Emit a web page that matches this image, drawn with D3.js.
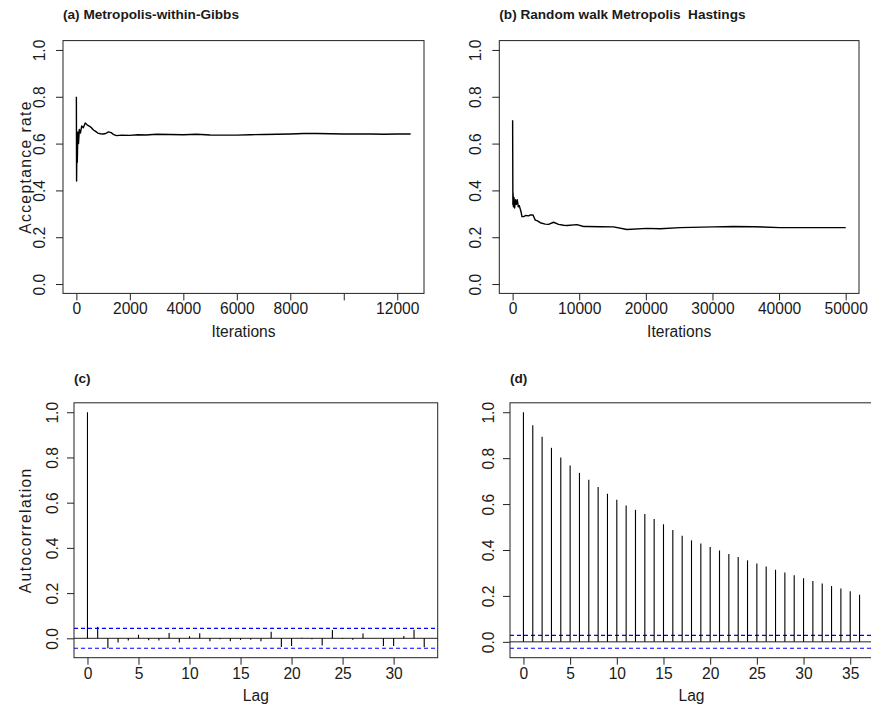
<!DOCTYPE html>
<html>
<head>
<meta charset="utf-8">
<script src="https://cdn.jsdelivr.net/npm/d3@7/dist/d3.min.js"></script>
<style>
  html, body { margin: 0; padding: 0; background: #fff; }
  svg { display: block; }
  text { font-family: "Liberation Sans", Arial, Helvetica, sans-serif; fill: #1a1a1a; }
</style>
</head>
<body>
<svg id="chart" width="871" height="707"></svg>
<script>
// ---- (a) running acceptance rate, Metropolis-within-Gibbs ----
const traceAIter = [0, 8, 20, 35, 55, 80, 110, 150, 200, 260, 330, 400, 480, 560, 640, 720, 800, 900, 1000,
  1100, 1200, 1300, 1400, 1500, 1700, 2000, 2300, 2600, 3000, 3500, 4000, 4500, 5000, 5500, 6000, 6500,
  7000, 7500, 8000, 8500, 9000, 9500, 10000, 10500, 11000, 11500, 12000, 12500];
const traceARate = [0.80, 0.44, 0.60, 0.52, 0.65, 0.60, 0.66, 0.645, 0.675, 0.668, 0.688, 0.680, 0.675, 0.668,
  0.658, 0.652, 0.645, 0.642, 0.641, 0.643, 0.650, 0.647, 0.638, 0.634, 0.636, 0.635, 0.638, 0.637, 0.640,
  0.639, 0.638, 0.640, 0.637, 0.636, 0.636, 0.638, 0.639, 0.640, 0.641, 0.643, 0.643, 0.642, 0.641, 0.641,
  0.641, 0.640, 0.641, 0.641];
const ticksA = [0, 2000, 4000, 6000, 8000, 10000, 12000];
const tickLabelsA = ["0", "2000", "4000", "6000", "8000", "", "12000"];

// ---- (b) running acceptance rate, random walk Metropolis Hastings ----
const traceBIter = [0, 40, 60, 120, 200, 300, 420, 550, 700, 850, 1000, 1260, 1400, 1650, 2000, 2400, 2650,
  3060, 3400, 3660, 4150, 4900, 5400, 6150, 6900, 7650, 8160, 9660, 10650, 11160, 13150, 15150, 17160,
  20160, 22150, 25150, 30150, 33150, 36150, 40150, 45100, 50000];
const traceBRate = [0.70, 0.34, 0.39, 0.33, 0.37, 0.325, 0.36, 0.34, 0.36, 0.33, 0.335, 0.309, 0.288, 0.288,
  0.293, 0.291, 0.295, 0.295, 0.273, 0.271, 0.262, 0.256, 0.255, 0.264, 0.255, 0.251, 0.250, 0.254, 0.246,
  0.246, 0.245, 0.244, 0.233, 0.238, 0.236, 0.241, 0.244, 0.246, 0.245, 0.241, 0.241, 0.241];
const ticksB = [0, 10000, 20000, 30000, 40000, 50000];
const tickLabelsB = ["0", "10000", "20000", "30000", "40000", "50000"];

const rateTicks = [0, 0.2, 0.4, 0.6, 0.8, 1.0];
const rateTickLabels = ["0.0", "0.2", "0.4", "0.6", "0.8", "1.0"];

// ---- (c) autocorrelation, Metropolis-within-Gibbs (lags 0..33) ----
const acfC = [1.0, 0.051, -0.044, -0.019, -0.010, 0.016, -0.009, -0.010, 0.024, -0.019, 0.009, 0.022,
  -0.013, -0.004, -0.013, -0.007, -0.006, -0.013, 0.029, -0.038, -0.034, 0.003, -0.004, -0.032, 0.037,
  -0.003, -0.006, 0.021, -0.001, -0.034, -0.034, 0.010, 0.038, -0.040];
const ciC = 0.044;
const lagTicksC = [0, 5, 10, 15, 20, 25, 30];

// ---- (d) autocorrelation, random walk Metropolis Hastings (lags 0..36) ----
const acfD = [1.0, 0.943, 0.893, 0.845, 0.803, 0.768, 0.736, 0.706, 0.674, 0.645, 0.619, 0.594, 0.575,
  0.557, 0.535, 0.512, 0.487, 0.462, 0.442, 0.428, 0.413, 0.398, 0.383, 0.369, 0.355, 0.341, 0.328,
  0.314, 0.302, 0.290, 0.277, 0.265, 0.254, 0.243, 0.232, 0.220, 0.205];
const ciD = 0.028;
const lagTicksD = [0, 5, 10, 15, 20, 25, 30, 35];

const acfTicks = [0, 0.2, 0.4, 0.6, 0.8, 1.0];
const acfTickLabels = ["0.0", "0.2", "0.4", "0.6", "0.8", "1.0"];

const svg = d3.select("#chart");
const TICK_FONT = "15.6px";
const TITLE_FONT = "13.6px";

// Extend a range by 4% on each side, as base graphics does.
function padded(lo, hi) {
  const p = 0.04 * (hi - lo);
  return [lo - p, hi + p];
}

function frame(g, box, x, y, xt, xtl, yt, ytl, opts) {
  // plot box
  g.append("rect")
    .attr("x", box.left).attr("y", box.top)
    .attr("width", box.right - box.left).attr("height", box.bottom - box.top)
    .attr("fill", "none").attr("stroke", "#222").attr("stroke-width", 1);

  // bottom axis
  const xAxis = d3.axisBottom(x).tickValues(xt).tickSize(7).tickSizeOuter(0)
    .tickFormat((d, i) => xtl[i]);
  const gx = g.append("g").attr("transform", `translate(0,${box.bottom})`).call(xAxis);
  gx.select(".domain").remove();
  gx.selectAll(".tick line").attr("stroke", "#222");
  gx.selectAll(".tick text").attr("y", 0).attr("dy", opts.xLabelDy)
    .style("font-size", TICK_FONT).attr("fill", "#1a1a1a");

  // left axis, labels rotated parallel to the axis
  const yAxis = d3.axisLeft(y).tickValues(yt).tickSize(7).tickSizeOuter(0)
    .tickFormat((d, i) => ytl[i]);
  const gy = g.append("g").attr("transform", `translate(${box.left},0)`).call(yAxis);
  gy.select(".domain").remove();
  gy.selectAll(".tick line").attr("stroke", "#222");
  gy.selectAll(".tick text")
    .attr("x", null).attr("dy", null)
    .attr("transform", `translate(${-opts.yLabelGap},0) rotate(-90)`)
    .attr("text-anchor", "middle")
    .style("font-size", TICK_FONT).attr("fill", "#1a1a1a");

  // axis titles
  g.append("text")
    .attr("x", (box.left + box.right) / 2).attr("y", box.bottom + opts.xTitleDy)
    .attr("text-anchor", "middle").style("font-size", TICK_FONT).text(opts.xTitle);
  if (opts.yTitle) {
    g.append("text")
      .attr("transform", `translate(${opts.yTitleX},${(box.top + box.bottom) / 2}) rotate(-90)`)
      .attr("text-anchor", "middle").style("font-size", TICK_FONT)
      .style("letter-spacing", "1.4px").text(opts.yTitle);
  }
  // panel title
  g.append("text")
    .attr("x", box.left).attr("y", opts.titleY)
    .attr("xml:space", "preserve")
    .style("font-size", TITLE_FONT).style("font-weight", "bold").style("white-space", "pre")
    .text(opts.title);
}

function tracePanel(box, iters, rates, xt, xtl, opts) {
  const g = svg.append("g");
  const x = d3.scaleLinear().domain(padded(0, d3.max(iters))).range([box.left, box.right]);
  const y = d3.scaleLinear().domain(padded(0, 1)).range([box.bottom, box.top]);
  const pts = iters.map((it, i) => [it, rates[i]]);
  g.append("path")
    .datum(pts)
    .attr("fill", "none").attr("stroke", "#000").attr("stroke-width", 1.4)
    .attr("stroke-linejoin", "round")
    .attr("d", d3.line().x(d => x(d[0])).y(d => y(d[1])));
  frame(g, box, x, y, xt, xtl, rateTicks, rateTickLabels, opts);
}

function acfPanel(box, acf, ci, xt, opts) {
  const g = svg.append("g");
  const lags = acf.map((_, i) => i);
  const x = d3.scaleLinear().domain(padded(0, lags.length - 1)).range([box.left, box.right]);
  const y = d3.scaleLinear().domain(padded(Math.min(d3.min(acf), -ci), Math.max(d3.max(acf), ci)))
    .range([box.bottom, box.top]);

  // zero line
  g.append("line")
    .attr("x1", box.left).attr("x2", box.right)
    .attr("y1", y(0)).attr("y2", y(0))
    .attr("stroke", "#222").attr("stroke-width", 1);

  // confidence bounds
  [ci, -ci].forEach(c => {
    g.append("line")
      .attr("x1", box.left).attr("x2", box.right)
      .attr("y1", y(c)).attr("y2", y(c))
      .attr("stroke", "#0000ff").attr("stroke-width", 1.1).attr("stroke-dasharray", "4,3");
  });

  // spikes
  g.selectAll("line.spike").data(acf).enter().append("line")
    .attr("class", "spike")
    .attr("x1", (d, i) => x(i)).attr("x2", (d, i) => x(i))
    .attr("y1", y(0)).attr("y2", d => y(d))
    .attr("stroke", "#000").attr("stroke-width", 1.1);

  const tl = xt.map(String);
  frame(g, box, x, y, xt, tl, acfTicks, acfTickLabels, opts);
}

const topOpts = { xLabelDy: 20.8, xTitleDy: 43.6, yLabelGap: 18, yTitleX: 31, titleY: 19, xTitle: "Iterations" };
const botOpts = { xLabelDy: 21.3, xTitleDy: 43.3, yLabelGap: 16, yTitleX: 31, titleY: 383, xTitle: "Lag" };

tracePanel({ left: 63, right: 424, top: 40.6, bottom: 293.4 }, traceAIter, traceARate, ticksA, tickLabelsA,
  Object.assign({}, topOpts, { title: "(a) Metropolis-within-Gibbs", yTitle: "Acceptance rate" }));

tracePanel({ left: 499.3, right: 859, top: 40.6, bottom: 293.4 }, traceBIter, traceBRate, ticksB, tickLabelsB,
  Object.assign({}, topOpts, { title: "(b) Random walk Metropolis  Hastings", yTitle: null }));

acfPanel({ left: 74, right: 437.7, top: 402.8, bottom: 657.7 }, acfC, ciC, lagTicksC,
  Object.assign({}, botOpts, { title: "(c)", yTitle: "Autocorrelation" }));

acfPanel({ left: 510, right: 873, top: 402.8, bottom: 657.7 }, acfD, ciD, lagTicksD,
  Object.assign({}, botOpts, { title: "(d)", yTitle: null }));
</script>
</body>
</html>
